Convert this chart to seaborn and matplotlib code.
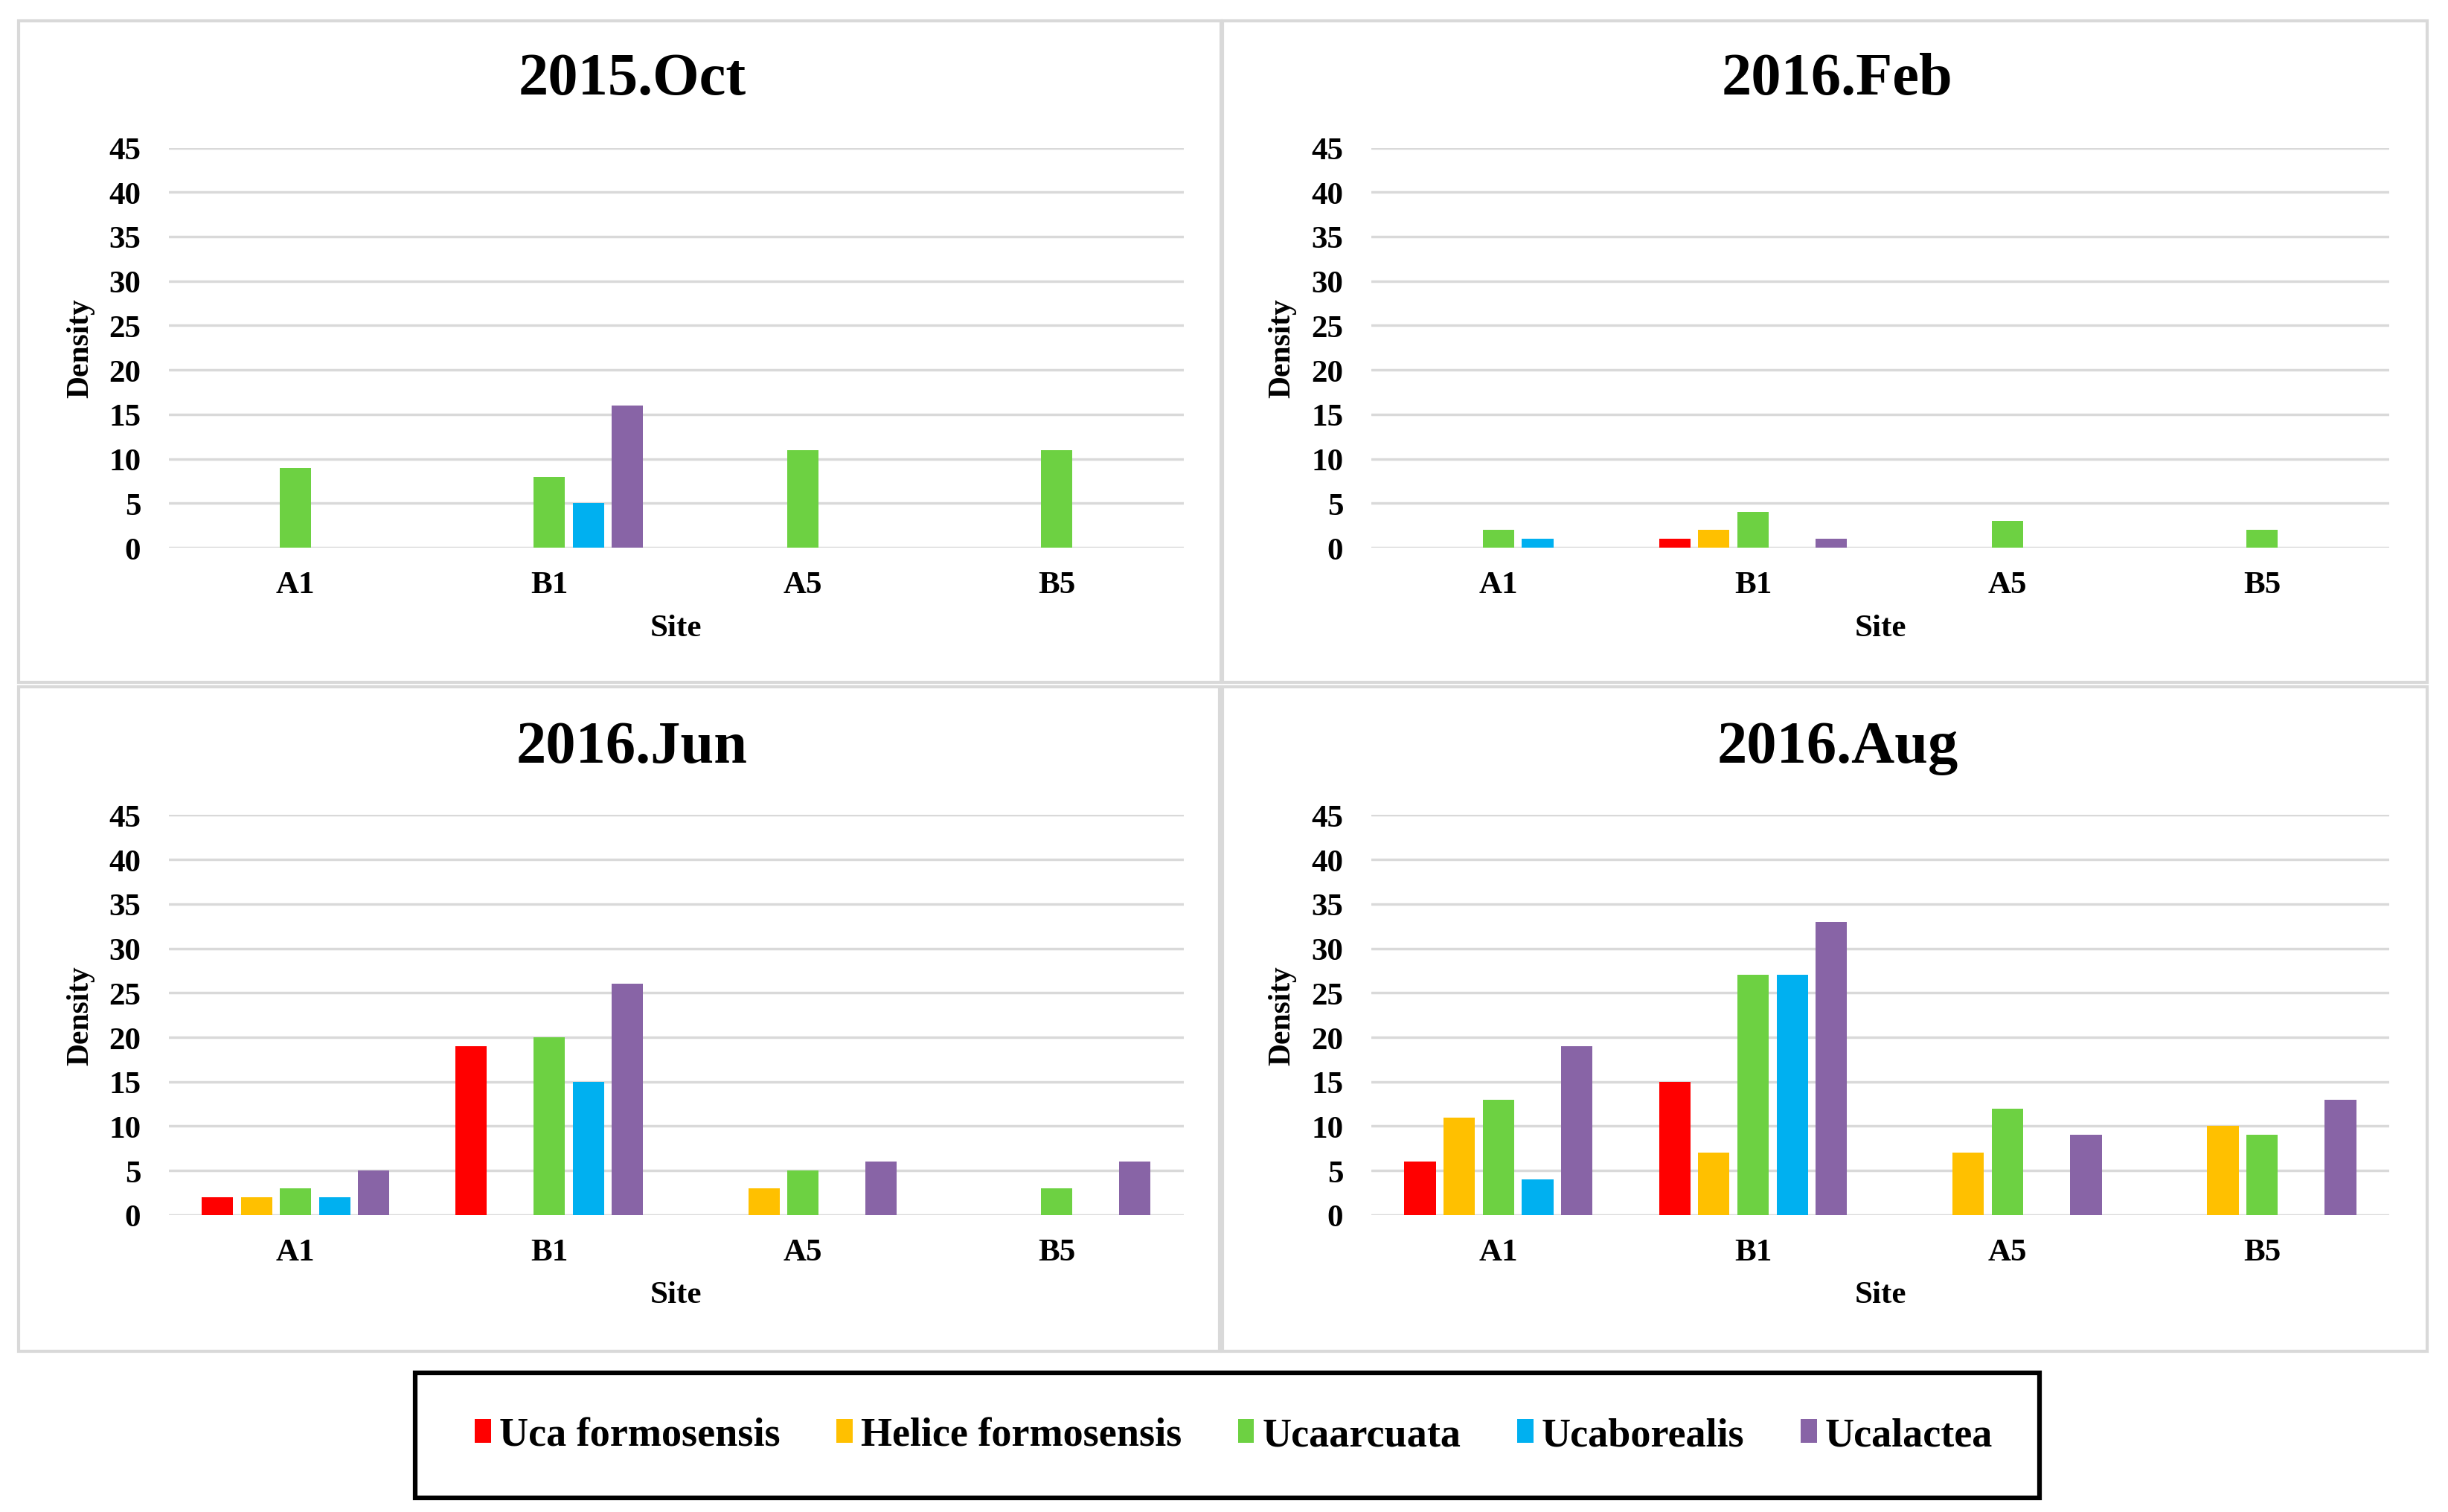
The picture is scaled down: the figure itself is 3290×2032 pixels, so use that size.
import numpy as np
import pandas as pd
import seaborn as sns
import matplotlib.pyplot as plt
from matplotlib.patches import Rectangle, Patch

sites = ["A1", "B1", "A5", "B5"]
species = ["Uca formosensis", "Helice formosensis", "Ucaarcuata", "Ucaborealis", "Ucalactea"]
colors = ["#FF0000", "#FFC000", "#6DD142", "#00B0F0", "#8864A6"]

# values per species, in site order A1, B1, A5, B5
oct_2015 = [
    [0, 0, 0, 0],
    [0, 0, 0, 0],
    [9, 8, 11, 11],
    [0, 5, 0, 0],
    [0, 16, 0, 0],
]
feb_2016 = [
    [0, 1, 0, 0],
    [0, 2, 0, 0],
    [2, 4, 3, 2],
    [1, 0, 0, 0],
    [0, 1, 0, 0],
]
jun_2016 = [
    [2, 19, 0, 0],
    [2, 0, 3, 0],
    [3, 20, 5, 3],
    [2, 15, 0, 0],
    [5, 26, 6, 6],
]
aug_2016 = [
    [6, 15, 0, 0],
    [11, 7, 7, 10],
    [13, 27, 12, 9],
    [4, 27, 0, 0],
    [19, 33, 9, 13],
]

panels = [
    ("2015.Oct", oct_2015),
    ("2016.Feb", feb_2016),
    ("2016.Jun", jun_2016),
    ("2016.Aug", aug_2016),
]


def to_long(values):
    rows = []
    for sp, vals in zip(species, values):
        for site, v in zip(sites, vals):
            rows.append({"Site": site, "Species": sp, "Density": v})
    return pd.DataFrame(rows)


sns.set_theme(style="white")
plt.rcParams["font.family"] = "serif"
plt.rcParams["font.serif"] = ["Liberation Serif", "DejaVu Serif"]
plt.rcParams["font.weight"] = "bold"
plt.rcParams["text.color"] = "black"
plt.rcParams["xtick.color"] = "black"
plt.rcParams["ytick.color"] = "black"
plt.rcParams["axes.labelcolor"] = "black"

W, H = 1568, 968  # layout measured on a 1568x968 copy of the reference
fig = plt.figure(figsize=(32.91, 20.33), dpi=100)


def fx(px):
    return px / W


def fy(py):
    return 1 - py / H


# panel frames (left, top, right, bottom)
frames = [(12, 14, 782, 437), (783, 14, 1554, 437), (12, 440, 781, 865), (783, 440, 1554, 865)]
# axes boxes (left, top, right, bottom)
boxes = [(108, 95, 758, 351), (878, 95, 1530, 351), (108, 522, 758, 778), (878, 522, 1530, 778)]
title_y = [51, 51, 479, 479]

for (title, values), fr, bx, ty in zip(panels, frames, boxes, title_y):
    fig.patches.append(Rectangle((fx(fr[0]), fy(fr[3])), fx(fr[2] - fr[0]), (fr[3] - fr[1]) / H,
                                 transform=fig.transFigure, fill=False,
                                 edgecolor="#D9D9D9", linewidth=3, zorder=0))
    ax = fig.add_axes([fx(bx[0]), fy(bx[3]), fx(bx[2] - bx[0]), (bx[3] - bx[1]) / H])
    df = to_long(values)
    sns.barplot(data=df, x="Site", y="Density", hue="Species", hue_order=species,
                order=sites, palette=colors, saturation=1, width=0.77, gap=0.2,
                linewidth=0, legend=False, ax=ax)
    ax.set_ylim(0, 45)
    ax.set_xlim(-0.5, 3.5)
    ax.set_yticks(np.arange(0, 46, 5))
    ax.yaxis.grid(True, color="#D9D9D9", linewidth=2.5)
    ax.set_axisbelow(True)
    for s in ax.spines.values():
        s.set_visible(False)
    ax.tick_params(axis="both", length=0, labelsize=31)
    ax.tick_params(axis="x", pad=22)
    ax.tick_params(axis="y", pad=27)
    for lab in ax.get_xticklabels() + ax.get_yticklabels():
        lab.set_fontweight("bold")
    ax.set_xlabel("Site", fontsize=31, fontweight="bold")
    ax.xaxis.set_label_coords(0.5, -0.2)
    ax.xaxis.label.set_verticalalignment("center")
    ax.set_ylabel("Density", fontsize=30, fontweight="bold")
    ax.yaxis.set_label_coords(-0.087, 0.5)
    ax.yaxis.label.set_verticalalignment("center")
    fig.text(fx((fr[0] + fr[2]) / 2 + 8), fy(ty), title, ha="center", va="center",
             fontsize=58, fontweight="bold")

# legend box
fig.patches.append(Rectangle((fx(266), fy(959)), fx(1306 - 266), (959 - 879) / H,
                             transform=fig.transFigure, fill=False,
                             edgecolor="black", linewidth=4.5, zorder=5))
handles = [Patch(facecolor=c, edgecolor="none") for c in colors]
fig.legend(handles, species, loc="center", bbox_to_anchor=(fx(790), fy(919)),
           ncol=5, frameon=False, handlelength=0.4, handleheight=0.55,
           handletextpad=0.2, columnspacing=1.4, prop={"weight": "bold", "size": 39})

fig.savefig("out.png", dpi=100)
